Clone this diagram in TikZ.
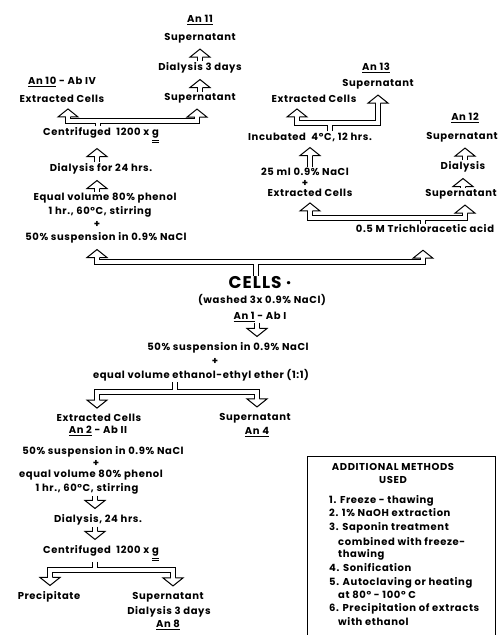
\documentclass[tikz,border=0pt]{standalone}
\usepackage{fontspec}
\setmainfont{Poppins}[LetterSpace=6]
\usetikzlibrary{calc,positioning}

\tikzset{
  pipe/.style={draw,line width=1pt,double=white,double distance=4.5pt},
  uphead/.pic={\draw[fill=white,line width=1pt] (-2.25,0) -- (-10,0) -- (0,-8) -- (10,0) -- (2.25,0);},
  downhead/.pic={\draw[fill=white,line width=1pt] (-2.25,0) -- (-10,0) -- (0,8) -- (10,0) -- (2.25,0);}}

% hollow arrow from one node to the next: from, to, x of the arrow
\newcommand{\flowup}[3]{%
  \path ($(#2.south)+(0,13)$) coordinate (hb);
  \draw[pipe] (#3,0 |- #1.north) -- (#3,0 |- hb);
  \pic at (#3,0 |- hb) {uphead};}
\newcommand{\flowdown}[3]{%
  \path ($(#2.north)+(0,-13)$) coordinate (hb);
  \draw[pipe] (#3,0 |- #1.south) -- (#3,0 |- hb);
  \pic at (#3,0 |- hb) {downhead};}

\begin{document}
\begin{tikzpicture}[x=1pt,y=-1pt,
    every node/.style={inner sep=1pt,font=\bfseries\fontsize{10}{13}\selectfont},
    big/.style={font=\bfseries\fontsize{17}{20}\selectfont}]
  \useasboundingbox (0,0) rectangle (499,635);

  % phenol extraction of the cells (upper left)
  \node (an11) at (200,20) {\underline{An 11}};
  \node (sup11) at (200,38) {Supernatant};
  \node (dia11) at (200,68) {Dialysis 3 days};
  \node (sup11b) at (200,98) {Supernatant};
  \node (an10) at (62,82) {\underline{An 10} - Ab IV};
  \node (ec10) at (62,99) {Extracted Cells};
  \node (cf10) at (101,135) {Centrifuged\ \ 1200 x \underline{\underline{g}}};
  \node (dl10) at (101,169) {Dialysis for 24 hrs.};
  \node (eq10) at (105,198) {Equal volume 80\% phenol};
  \node (hr10) at (100,212) {1 hr., 60°C, stirring};
  \node (pl10) at (97,224) {+};
  \node (su10) at (106,238) {50\% suspension in 0.9\% NaCl};

  % trichloracetic acid extraction (upper right)
  \node (an13) at (376,68) {\underline{An 13}};
  \node (sup13) at (378,84) {Supernatant};
  \node (ec13) at (314,99) {Extracted Cells};
  \node (inc13) at (310,137) {Incubated\ \ 4°C, 12 hrs.};
  \node (ml13) at (305,172) {25 ml 0.9\% NaCl};
  \node (pl13) at (305,183) {+};
  \node (ec13b) at (310,193) {Extracted Cells};
  \node (an12) at (465,118) {\underline{An 12}};
  \node (sup12) at (462,137) {Supernatant};
  \node (dia12) at (463,167) {Dialysis};
  \node (sup12b) at (461,194) {Supernatant};
  \node (tca) at (425,229) {0.5 M Trichloracetic acid};

  % the cells
  \node[big] (cells) at (260,283) {CELLS ·};
  \node (wash) at (262,300) {(washed 3x 0.9\% NaCl)};
  \node (an1) at (260,317) {\underline{An 1} - Ab I};
  \node (su1) at (228,348) {50\% suspension in 0.9\% NaCl};
  \node (pl1) at (215,361) {+};
  \node (eth1) at (201,375) {equal volume ethanol-ethyl ether (1:1)};

  % ethanol-ether extraction (lower left)
  \node (ec2) at (99,418) {Extracted Cells};
  \node (an2) at (98,431) {\underline{An 2} - Ab II};
  \node (sup4) at (255,418) {Supernatant};
  \node (an4) at (257,432) {\underline{An 4}};
  \node (su2) at (103,452) {50\% suspension in 0.9\% NaCl};
  \node (pl2) at (96,463) {+};
  \node (eq2) at (91,475) {equal volume 80\% phenol};
  \node (hr2) at (87,489) {1 hr., 60°C, stirring};
  \node (dl2) at (98,520) {Dialysis, 24 hrs.};
  \node (cf2) at (101,553) {Centrifuged\ \ 1200 x \underline{\underline{g}}};
  \node (pre) at (49,597) {Precipitate};
  \node (sup8) at (168,597) {Supernatant};
  \node (dia8) at (169,612) {Dialysis 3 days};
  \node (an8) at (168,625) {\underline{An 8}};

  % straight arrows
  \flowup{dia11}{sup11}{200}
  \flowup{sup11b}{dia11}{200}
  \flowup{dl10}{cf10}{97}
  \flowup{eq10}{dl10}{97}
  \flowup{ml13}{inc13}{310}
  \flowup{dia12}{sup12}{465}
  \flowup{sup12b}{dia12}{463}
  \flowdown{an1}{su1}{257}
  \flowdown{hr2}{dl2}{95}
  \flowdown{dl2}{cf2}{95}

  % split arrows
  \path ($(ec10.south)+(6,13)$) coordinate (h10a) ($(sup11b.south)+(-3,13)$) coordinate (h10b);
  \draw[pipe] (98,0 |- cf10.north) -- (98,121) -| (h10a) (98,121) -| (h10b);
  \pic at (h10a) {uphead}; \pic at (h10b) {uphead};

  \path ($(ec13.south)+(-17,13)$) coordinate (h13a) ($(sup13.south)+(0,13)$) coordinate (h13b);
  \draw[pipe] (330,0 |- inc13.north) -- (330,123) -| (h13a) (330,123) -| (h13b);
  \pic at (h13a) {uphead}; \pic at (h13b) {uphead};

  \path ($(ec13b.south)+(0,13)$) coordinate (hta) ($(sup12b.south)+(4,13)$) coordinate (htb);
  \draw[pipe] (423,0 |- tca.north) -- (423,218) -| (hta) (423,218) -| (htb);
  \pic at (hta) {uphead}; \pic at (htb) {uphead};

  \path ($(su10.south)+(-9,13)$) coordinate (hca) ($(tca.south)+(-2,24)$) coordinate (hcb);
  \draw[pipe] (256,0 |- cells.north) -- (256,262) -| (hca) (256,262) -| (hcb);
  \pic at (hca) {uphead}; \pic at (hcb) {uphead};

  \path ($(ec2.north)+(-2,-13)$) coordinate (hea) ($(sup4.north)+(2,-13)$) coordinate (heb);
  \draw[pipe] (175,0 |- eth1.south) -- (175,392) -| (hea) (175,392) -| (heb);
  \pic at (hea) {downhead}; \pic at (heb) {downhead};

  \path ($(pre.north)+(1,-13)$) coordinate (hfa) ($(sup8.north)+(5,-13)$) coordinate (hfb);
  \draw[pipe] (95,0 |- cf2.south) -- (95,570) -| (hfa) (95,570) -| (hfb);
  \pic at (hfa) {downhead}; \pic at (hfb) {downhead};

  % box of the other methods
  \draw[line width=1pt] (307,635) -- (307,456) -- (495,456) -- (495,635);
  \node[align=center] (title) at (393,473) {ADDITIONAL METHODS\\USED};
  \foreach \xx/\yy/\txt in {328/501/{1. Freeze - thawing}, 328/513/{2. 1\% NaOH extraction},
      328/528/{3. Saponin treatment}, 337/542/{combined with freeze-}, 337/555/{thawing},
      328/568/{4. Sonification}, 328/583/{5. Autoclaving or heating}, 337/595/{at 80° - 100° C},
      328/609/{6. Precipitation of extracts}, 337/622/{with ethanol}}
    \node[anchor=west] (m\yy) at (\xx,\yy) {\txt};
\end{tikzpicture}
\end{document}
